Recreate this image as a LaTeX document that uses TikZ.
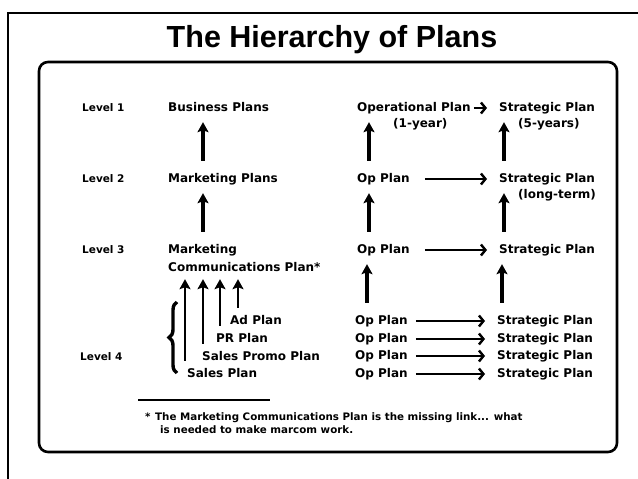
\documentclass[tikz,border=0pt]{standalone}
\usepackage{fontspec}
\setmainfont{DejaVu Sans}
\newfontfamily\titlefont{Liberation Sans}
\usepackage{tikz}
\usetikzlibrary{arrows.meta}
\usetikzlibrary{decorations.pathreplacing}

\tikzset{
    plan/.style={anchor=base west,inner sep=0pt,text height=9pt,text depth=3pt,font=\bfseries\fontsize{12}{14}\selectfont},
    lvllabel/.style={plan,font=\bfseries\fontsize{10.5}{12}\selectfont},
    notetext/.style={plan,text height=7pt,text depth=2pt,font=\bfseries\fontsize{10.3}{12}\selectfont},
    uparrow/.style={line width=3.2pt,shorten <=12pt,shorten >=8pt,-{Stealth[length=10pt,width=11pt,inset=2pt]}},
    sidearrow/.style={line width=2pt,-{Straight Barb[length=4.5pt,width=11pt,line width=2.4pt]}},
}

\begin{document}
\begin{tikzpicture}[x=1pt,y=-1pt]
    \useasboundingbox (0,0) rectangle (638,479);
    %%% FRAMES %%%
    \draw[line width=2pt] (8,479) -- (8,13) -- (638,13);
    \draw[line width=2.6pt,rounded corners=9pt] (39,62) rectangle (617,452);
    \node[font=\titlefont\bfseries\fontsize{30.5}{32}\selectfont,anchor=base,inner sep=0pt] (title) at (332,47) {The Hierarchy of Plans};

    %%% LEVELS %%%
    \node[lvllabel] (lvl1) at (82,111) {Level 1};
    \node[lvllabel] (lvl2) at (82,182) {Level 2};
    \node[lvllabel] (lvl3) at (82,253) {Level 3};
    \node[lvllabel] (lvl4) at (80,360) {Level 4};

    %%% MARKETING COLUMN %%%
    \node[plan] (busi) at (168,111) {Business Plans};
    \node[plan] (mktg) at (168,182) {Marketing Plans};
    \node[plan] (mcom) at (168,253) {Marketing};
    \node[plan] (comm) at (168,271) {Communications Plan*};
    \node[plan] (ad) at (230,324) {Ad Plan};
    \node[plan] (pr) at (216,342) {PR Plan};
    \node[plan] (promo) at (202,360) {Sales Promo Plan};
    \node[plan] (sales) at (187,377) {Sales Plan};

    \coordinate (bx) at ([xshift=35pt]mktg.north west);
    \coordinate (mx) at ([xshift=35pt]mcom.north west);
    \draw[uparrow] (bx) -- (bx |- busi.south);
    \draw[uparrow] (mx) -- (mx |- mktg.south);
    \foreach \n/\dx in {sales/-2,promo/1,pr/4,ad/8} {
        \coordinate (t\n) at ([xshift=\dx pt]\n.north west);
        \draw[uparrow,line width=2.6pt,shorten <=7pt,shorten >=5pt] (t\n) -- (t\n |- comm.south);
    }
    \draw[decorate,decoration={brace,amplitude=8pt},line width=3.4pt] (177,373) -- (177,302);

    %%% OP AND STRATEGIC COLUMNS %%%
    \node[plan] (op1) at (357,111) {Operational Plan};
    \node[plan] (st1) at (499,111) {Strategic Plan};
    \node[plan] (yr1) at (393,127) {(1-year)};
    \node[plan] (yr5) at (518,127) {(5-years)};
    \node[plan] (op2) at (357,182) {Op Plan};
    \node[plan] (st2) at (499,182) {Strategic Plan};
    \node[plan] (lterm) at (518,198) {(long-term)};
    \node[plan] (op3) at (357,253) {Op Plan};
    \node[plan] (st3) at (499,253) {Strategic Plan};

    \draw[sidearrow,shorten <=3pt,shorten >=12pt] (op1) -- (st1);
    \draw[sidearrow,shorten <=15pt,shorten >=12pt] (op2) -- (st2);
    \draw[sidearrow,shorten <=15pt,shorten >=12pt] (op3) -- (st3);
    \foreach \i/\y in {a/324,b/342,c/359,d/377} {
        \node[plan] (op4\i) at (355,\y) {Op Plan};
        \node[plan] (st4\i) at (497,\y) {Strategic Plan};
        \draw[sidearrow,shorten <=8pt,shorten >=12pt] (op4\i) -- (st4\i);
    }

    \foreach \a/\b in {op2/op1,op3/op2,op4a/op3} {
        \coordinate (o\a) at ([xshift=12pt]\a.north west);
        \draw[uparrow] (o\a) -- (o\a |- \b.south);
    }
    \foreach \a/\b in {st2/st1,st3/st2,st4a/st3} {
        \coordinate (s\a) at ([xshift=5pt]\a.north west);
        \draw[uparrow] (s\a) -- (s\a |- \b.south);
    }

    %%% FOOTNOTE %%%
    \draw[line width=2pt] (138,400) -- (270,400);
    \node[notetext] (star) at (145,420) {*};
    \node[notetext] (note1) at (155,420) {The Marketing Communications Plan is the missing link... what};
    \node[notetext] (note2) at (160,433) {is needed to make marcom work.};
\end{tikzpicture}
\end{document}
